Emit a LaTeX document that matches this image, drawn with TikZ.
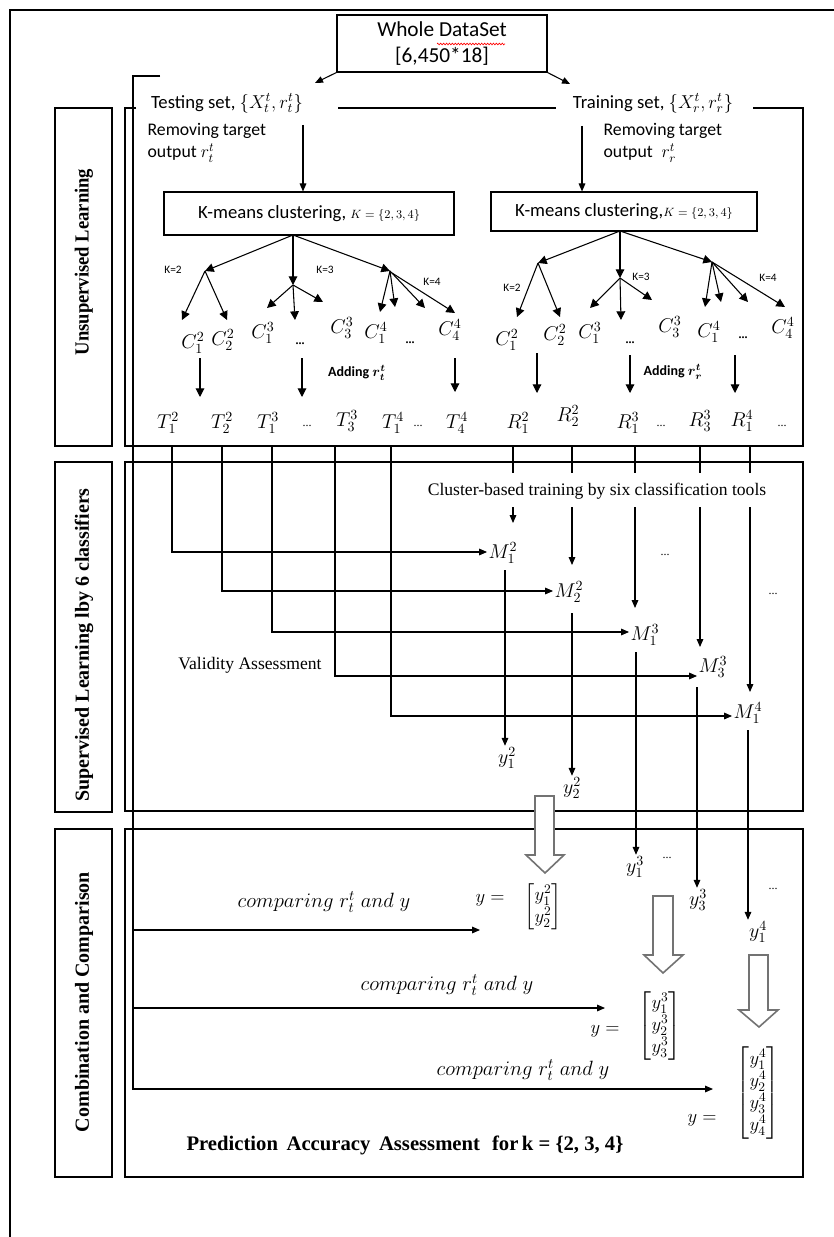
\RequirePackage{fix-cm}
\documentclass[tikz,border=0pt]{standalone}
\usepackage{amsmath}
\usepackage[no-math]{fontspec}
\setmainfont{Liberation Serif}
\newfontfamily\calibri{Carlito}
\usetikzlibrary{arrows.meta,decorations.pathmorphing}
\begin{document}
\begin{tikzpicture}[x=0.75pt,y=-0.75pt,
 ln/.style={line width=0.8pt},
 arr/.style={line width=0.8pt,-{Triangle[length=6pt,width=5pt]}},
 tarr/.style={line width=0.8pt,-{Triangle[length=6.5pt,width=6.5pt]}},
 frame/.style={draw,line width=0.8pt},
 cal/.style={font=\calibri\fontsize{14}{17}\selectfont,inner sep=1pt},
 calr/.style={font=\calibri\fontsize{13.3}{16.5}\selectfont,inner sep=1pt,align=left},
 calsm/.style={font=\calibri\fontsize{8.5}{10}\selectfont,inner sep=1pt},
 calb/.style={font=\calibri\bfseries\fontsize{10.5}{12}\selectfont,inner sep=1pt},
 mth/.style={font=\fontsize{15}{17}\selectfont,inner sep=1pt},
 mtx/.style={font=\fontsize{14}{16.5}\selectfont,inner sep=1pt},
 dots/.style={font=\fontsize{9}{10}\selectfont,inner sep=1pt},
 tms/.style={font=\fontsize{13.2}{16}\selectfont,inner sep=1pt},
 cmp/.style={font=\fontsize{15.5}{18}\selectfont,inner sep=1pt},
 lbl/.style={font=\bfseries\fontsize{15}{18}\selectfont,rotate=90,inner sep=1pt},
 hollow/.style={draw=black!55,line width=1.2pt,fill=white},
]
\useasboundingbox (0,0) rectangle (834,1237);
% page frame
\draw[line width=2pt] (834,10) -- (10,10) -- (10,1237);

% top box
\node[frame,cal,minimum width=210*0.75pt,minimum height=57*0.75pt,align=center,inner sep=0pt,
      font=\calibri\fontsize{16}{19}\selectfont] (whole) at (442,43.5) {Whole DataSet\\[0pt][6,450*18]};
\draw[red,line width=0.5pt,decorate,decoration={zigzag,segment length=2.2pt,amplitude=0.6pt}] (437,44) -- (505,44);

\node[cal] (test) at (227,103) {Testing set, $\{X_t^t, r_t^t\}$};
\node[cal] (train) at (653,103) {Training set, $\{X_r^t, r_r^t\}$};
\coordinate (testtip) at (315,83);
\coordinate (traintip) at (570,84);
\draw[arr] (whole.south west) -- (testtip);
\draw[arr] (whole.south east) -- (traintip);

% unsupervised region
\draw[ln] (136,108) -- (125,108) -- (125,446) -- (803,446) -- (803,108) -- (753,108);
\draw[ln] (338,108) -- (556,108);

% testing line
\coordinate (tl0) at (160,76);
\coordinate (tl1) at (133,76);
\coordinate (tl2) at (133,1089);

\node[calr,anchor=west] (remL) at (146,143) {Removing target\\output $r_t^t$};
\node[calr,anchor=west] (remR) at (602,143) {Removing target\\output\enspace$r_r^t$};

\node[frame,cal,minimum width=290*0.75pt,minimum height=43*0.75pt] (kmL) at (309,213.5) {K-means clustering, {\small$K=\{2,3,4\}$}};
\node[frame,cal,minimum width=266*0.75pt,minimum height=39*0.75pt] (kmR) at (624,211.5) {K-means clustering,{\small$K=\{2,3,4\}$}};
\draw[arr] (303,125) -- (kmL.north -| 303,0);
\draw[arr] (582,126) -- (kmR.north -| 582,0);

% left tree
\coordinate (rL) at (293,235);
\coordinate (k2L) at (205,271);
\coordinate (k3L) at (293,285);
\coordinate (k4L) at (390,271);
\draw[tarr] (rL) -- (k2L);
\draw[tarr] (rL) -- (k3L);
\draw[tarr] (rL) -- (k4L);
\draw[tarr] (k2L) -- (182,320);
\draw[tarr] (k2L) -- (227,320);
\draw[tarr] (k3L) -- (267,308);
\draw[tarr] (k3L) -- (295,320);
\draw[tarr] (k3L) -- (323,302);
\draw[tarr] (k4L) -- (380,312);
\draw[tarr] (k4L) -- (395,307);
\draw[tarr] (k4L) -- (425,308);
\draw[tarr] (392,273) -- (455,313);
\node[calsm] (lk2L) at (173,270) {K=2};
\node[calsm] (lk3L) at (325,270) {K=3};
\node[calsm] (lk4L) at (432,282) {K=4};
\node[mth] (C12L) at (193,343) {$C_1^2$};
\node[mth] (C22L) at (223,340) {$C_2^2$};
\node[mth] (C13L) at (263,333) {$C_1^3$};
\node[dots] (d1L) at (300,344) {\textbf{...}};
\node[mth] (C33L) at (342,328) {$C_3^3$};
\node[mth] (C14L) at (376,333) {$C_1^4$};
\node[dots] (d2L) at (410,343) {\textbf{...}};
\node[mth] (C44L) at (450,330) {$C_4^4$};
\draw[tarr] (200,358) -- (200,397);
\draw[tarr] (302,358) -- (302,397);
\draw[tarr] (455,358) -- (455,392);
\node[calb] (addL) at (357,373) {Adding $\boldsymbol{r_t^t}$};
\node[mth] (T12) at (168,423) {$T_1^2$};
\node[mth] (T22) at (222,423) {$T_2^2$};
\node[mth] (T13) at (268,423) {$T_1^3$};
\node[dots] (d3L) at (307,426) {...};
\node[mth] (T33) at (347,421) {$T_3^3$};
\node[mth] (T14) at (393,423) {$T_1^4$};
\node[dots] (d4L) at (418,426) {...};
\node[mth] (T44) at (457,423) {$T_4^4$};

% right tree
\coordinate (rR) at (620,231);
\coordinate (k2R) at (538,263);
\coordinate (k3R) at (620,278);
\coordinate (k4R) at (712,262);
\draw[tarr] (rR) -- (k2R);
\draw[tarr] (rR) -- (k3R);
\draw[tarr] (rR) -- (k4R);
\draw[tarr] (k2R) -- (517,317);
\draw[tarr] (k2R) -- (560,317);
\draw[tarr] (k3R) -- (590,308);
\draw[tarr] (k3R) -- (621,320);
\draw[tarr] (k3R) -- (652,300);
\draw[tarr] (k4R) -- (705,307);
\draw[tarr] (k4R) -- (721,302);
\draw[tarr] (k4R) -- (748,302);
\draw[tarr] (k4R) -- (785,307);
\node[calsm] (lk2R) at (512,288) {K=2};
\node[calsm] (lk3R) at (641,277) {K=3};
\node[calsm] (lk4R) at (768,278) {K=4};
\node[mth] (C12R) at (507,340) {$C_1^2$};
\node[mth] (C22R) at (555,335) {$C_2^2$};
\node[mth] (C13R) at (590,333) {$C_1^3$};
\node[dots] (d1R) at (630,343) {\textbf{...}};
\node[mth] (C33R) at (670,327) {$C_3^3$};
\node[mth] (C14R) at (709,332) {$C_1^4$};
\node[dots] (d2R) at (743,338) {\textbf{...}};
\node[mth] (C44R) at (783,328) {$C_4^4$};
\draw[tarr] (537,353) -- (537,393);
\draw[tarr] (630,355) -- (630,393);
\draw[tarr] (735,355) -- (735,393);
\node[calb] (addR) at (673,372) {Adding $\boldsymbol{r_r^t}$};
\node[mth] (R12) at (518,423) {$R_1^2$};
\node[mth] (R22) at (568,416) {$R_2^2$};
\node[mth] (R13) at (628,423) {$R_1^3$};
\node[dots] (d3R) at (661,426) {...};
\node[mth] (R33) at (700,421) {$R_3^3$};
\node[mth] (R14) at (742,421) {$R_1^4$};
\node[dots] (d4R) at (782,426) {...};

% supervised region
\draw[ln] (125,462) rectangle (803,811);
\node[tms] (cluster) at (597,491) {Cluster-based training by six classification tools};
\node[tms] (valid) at (250,665) {Validity Assessment};

\node[mth] (M12) at (503,553) {$M_1^2$};
\node[mth] (M22) at (569,592) {$M_2^2$};
\node[mth] (M13) at (645,635) {$M_1^3$};
\node[mth] (M33) at (713,667) {$M_3^3$};
\node[mth] (M14) at (748,713) {$M_1^4$};
\node[dots] (d5) at (665,555) {...};
\node[dots] (d6) at (773,594) {...};

% T connectors
\draw[arr] (172,446) |- (M12.west |- 0,552);
\draw[arr] (222,446) |- (M22.west |- 0,591);
\draw[arr] (272,446) |- (M13.west |- 0,632);
\draw[arr] (335,446) |- (M33.west |- 0,676);
\draw[arr] (391,446) |- (M14.west |- 0,716);
% R connectors
\draw[ln] (513,446) -- (513,473); \draw[arr] (513,507) -- (513,523);
\draw[ln] (572,446) -- (572,473); \draw[arr] (572,507) -- (572,565);
\draw[ln] (635,446) -- (635,473); \draw[arr] (635,507) -- (635,608);
\draw[ln] (700,446) -- (700,473); \draw[arr] (700,507) -- (700,647);
\draw[ln] (750,446) -- (750,473); \draw[arr] (750,507) -- (750,692);

% outputs
\node[mth] (y12) at (507,758) {$y_1^2$};
\node[mth] (y22) at (572,788) {$y_2^2$};
\node[mth] (y13) at (635,867) {$y_1^3$};
\node[mth] (y33) at (698,900) {$y_3^3$};
\node[mth] (y14) at (758,932) {$y_1^4$};
\node[dots] (d7) at (667,858) {...};
\node[dots] (d8) at (773,889) {...};
\draw[arr] (505,570) -- (y12.north -| 505,0);
\draw[arr] (572,613) -- (y22.north -| 572,0);
\draw[arr] (636,652) -- (y13.north -| 636,0);
\draw[arr] (697,687) -- (y33.north -| 697,0);
\draw[arr] (748,730) -- (y14.north -| 748,0);

% combination region
\draw[ln] (125,829) rectangle (803,1177);

% hollow arrows
\draw[hollow] (535,796) -- (554,796) -- (554,855) -- (564,855) -- (545,873) -- (526,855) -- (535,855) -- cycle;
\draw[hollow] (653,896) -- (673,896) -- (673,955) -- (683,955) -- (663,973) -- (644,955) -- (653,955) -- cycle;
\draw[hollow] (749,955) -- (768,955) -- (768,1010) -- (778,1010) -- (759,1027) -- (739,1010) -- (749,1010) -- cycle;

% matrices
\node[mtx] (eq2) at (490,900) {$y=$};
\node[mtx,inner sep=0pt] (Y2) at (543,907) {$\begin{bmatrix} y_1^2\\ y_2^2\end{bmatrix}$};
\node[mtx] (eq3) at (605,1031) {$y=$};
\node[mtx,inner sep=0pt] (Y3) at (660,1026) {$\begin{bmatrix} y_1^3\\ y_2^3\\ y_3^3\end{bmatrix}$};
\node[mtx] (eq4) at (702,1120) {$y=$};
\node[mtx,inner sep=0pt] (Y4) at (758,1093) {$\begin{bmatrix} y_1^4\\ y_2^4\\ y_3^4\\ y_4^4\end{bmatrix}$};

% comparisons
\node[cmp] (cmp1) at (324,902) {$comparing\;r_t^t\;and\;y$};
\node[cmp] (cmp2) at (447,985) {$comparing\;r_t^t\;and\;y$};
\node[cmp] (cmp3) at (523,1070) {$comparing\;r_t^t\;and\;y$};
\coordinate (b1) at (133,930);
\coordinate (b2) at (133,1008);
\coordinate (e1) at (480,930);
\coordinate (e2) at (605,1008);
\coordinate (e3) at (713,1089);
\draw[arr] (b1) -- (e1);
\draw[arr] (b2) -- (e2);
\draw[arr] (tl0) -- (tl1) -- (tl2) -- (e3);

\node[font=\bfseries\fontsize{15.5}{18}\selectfont] (pred) at (405,1145) {Prediction\, Accuracy\, Assessment\,\, for\,k = \{2, 3, 4\}};

% left label boxes
\draw[ln] (55,108) rectangle (112,446);
\draw[ln] (55,462) rectangle (112,812);
\draw[ln] (55,829) rectangle (112,1177);
\node[lbl,xscale=0.93] (lab1) at (84,262) {Unsupervised Learning};
\node[lbl] (lab2) at (84,645) {Supervised Learning lby 6 classifiers};
\node[lbl] (lab3) at (84,1002) {Combination and Comparison};
\end{tikzpicture}
\end{document}
